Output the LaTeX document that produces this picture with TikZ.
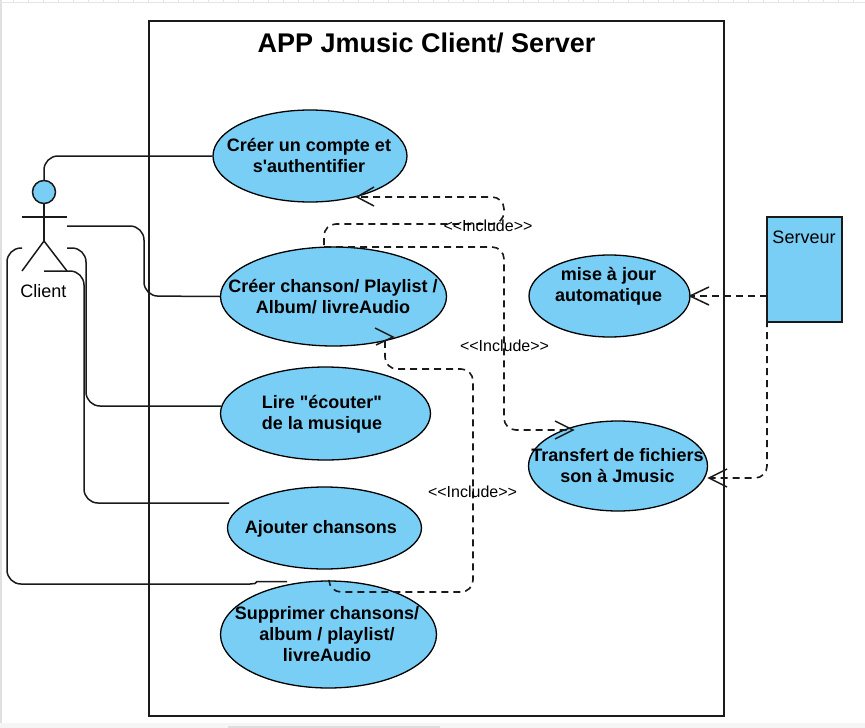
\documentclass[tikz,border=0pt]{standalone}
\usepackage{fontspec}
\setmainfont{Liberation Sans}
\newfontfamily\lib{Liberation Sans}
\definecolor{ublue}{HTML}{79CEF5}
\definecolor{uline}{HTML}{1A1A1A}
\usetikzlibrary{shapes.geometric}
\tikzset{
  usecase/.style={draw=black,line width=1.3pt,fill=ublue,ellipse,minimum width=2*#1,inner sep=0pt},
  casetext/.style={font=\lib\fontsize{18}{21}\selectfont\bfseries,align=center,inner sep=0pt},
  plaintext/.style={font=\lib\fontsize{18}{21}\selectfont,inner sep=0pt},
  solidlink/.style={draw=uline,line width=1.5pt,rounded corners=14pt},
  dashlink/.style={draw=uline,line width=1.6pt,dash pattern=on 7pt off 5pt,rounded corners=12pt},
  openhead/.style={draw=uline,line width=1.5pt},
  inc/.style={font=\lib\fontsize{16}{18}\selectfont,inner sep=0pt,text=black},
}
\begin{document}
\begin{tikzpicture}[x=1pt,y=-1pt]
\useasboundingbox (0,0) rectangle (865,728);
\fill[white] (0,0) rectangle (865,728);
\fill[black!4] (0,723) rectangle (865,728);
\fill[black!13] (228,726) rectangle (440,728);
\fill[black!12] (0,0) rectangle (1.5,723);
\fill[black!10] (0,2) rectangle (865,3);
\foreach \tx in {13,28,...,863} \fill[black!10] (\tx,0) rectangle (\tx+1,2);
\draw[line width=1.6pt,draw=uline] (149,21) rectangle (724,716);
\node[font=\lib\fontsize{27}{32}\selectfont\bfseries,inner sep=0pt] (title) at (426.5,43) {APP Jmusic Client/ Server};
\coordinate (armr1) at (67,226);
\coordinate (armr2) at (67,248);
\coordinate (armr3) at (44,271);
\coordinate (arml) at (22,248);
\node[usecase=97pt,minimum height=92pt] (e1) at (310,156) {};
\node[usecase=113pt,minimum height=99pt] (e2) at (333.5,296.5) {};
\node[usecase=105pt,minimum height=93pt] (e3) at (325.5,413.5) {};
\node[usecase=97pt,minimum height=82pt] (e4) at (324.5,528) {};
\node[usecase=108pt,minimum height=107pt] (e5) at (328.5,634.5) {};
\node[usecase=80.5pt,minimum height=82pt] (e6) at (609.5,296) {};
\node[usecase=89.5pt,minimum height=90pt] (e7) at (618,466) {};
\node[draw=uline,line width=1.5pt,fill=ublue,minimum width=75pt,minimum height=105pt,inner sep=0pt] (srv) at (804.5,269.5) {};
\node[plaintext] (srvt) at (804,237) {Serveur};
\node[casetext] (t1) at (309,155.5) {Créer un compte et\\s'authentifier};
\node[casetext] (t2) at (333,296.5) {Créer chanson/ Playlist /\\Album/ livreAudio};
\node[casetext] (t3) at (322,414) {Lire "écouter"\\de la musique};
\node[casetext] (t4) at (321,528.5) {Ajouter chansons};
\node[casetext] (t5) at (327,634.5) {Supprimer chansons/\\album / playlist/\\livreAudio};
\node[casetext] (t6) at (608.5,286.5) {mise à jour\\automatique};
\node[casetext] (t7) at (617.5,466) {Transfert de fichiers\\son à Jmusic};
\node[draw=uline,line width=1.5pt,fill=ublue,circle,minimum size=23pt,inner sep=0pt] (head) at (44,192) {};
\coordinate (hip) at (44,241);
\draw[openhead] (head.south) -- (hip);
\draw[openhead] (22,217) -- (67,217);
\draw[openhead] (22,271) -- (hip) -- (67,271);
\node[plaintext] (actor) at (43.5,291) {Client};
\draw[solidlink] (head.north) -- (44,156) -- (e1.west);
\draw[solidlink] (armr1) -- (144,226) -- (144,296) -- (e2.west);
\draw[solidlink] (armr2) -- (86,248) -- (86,406) -- (221,406);
\draw[solidlink] (armr3) -- (84,271) -- (84,503) -- (229,503);
\draw[solidlink] (arml) -- (7,248) -- (7,584) -- (250,584);
\draw[draw=uline,line width=1.5pt] (250,584) -- (255,583.5) -- (257,581.5) -- (287,581.5);
\draw[dashlink] (324,245) -- (324,224) -- (504,224) -- (504,197) -- (357,197);
\draw[openhead] (374,187) -- (357,197) -- (374,206);
\draw[dashlink] (324,247) -- (504,247) -- (504,430) -- (573,430);
\draw[openhead] (555,421) -- (573,430) -- (555,439);
\draw[dashlink] (329,581) -- (329,592) -- (473,592) -- (473,369) -- (385,369) -- (385,340);
\draw[openhead] (375,328) -- (393,337) -- (376,345);
\coordinate (srvmid) at (767,296);
\draw[dashlink] (srvmid) -- (e6.east);
\draw[openhead] (709,287) -- (690,296) -- (709,305);
\draw[dashlink] (srvmid) -- (767,478) -- (709,478);
\draw[openhead] (727,469) -- (709,478) -- (727,487);
\node[inc] (i1) at (488,225.5) {<<Include>>};
\node[inc] (i2) at (504.5,346) {<<Include>>};
\node[inc] (i3) at (472.5,491.5) {<<Include>>};
\end{tikzpicture}
\end{document}
